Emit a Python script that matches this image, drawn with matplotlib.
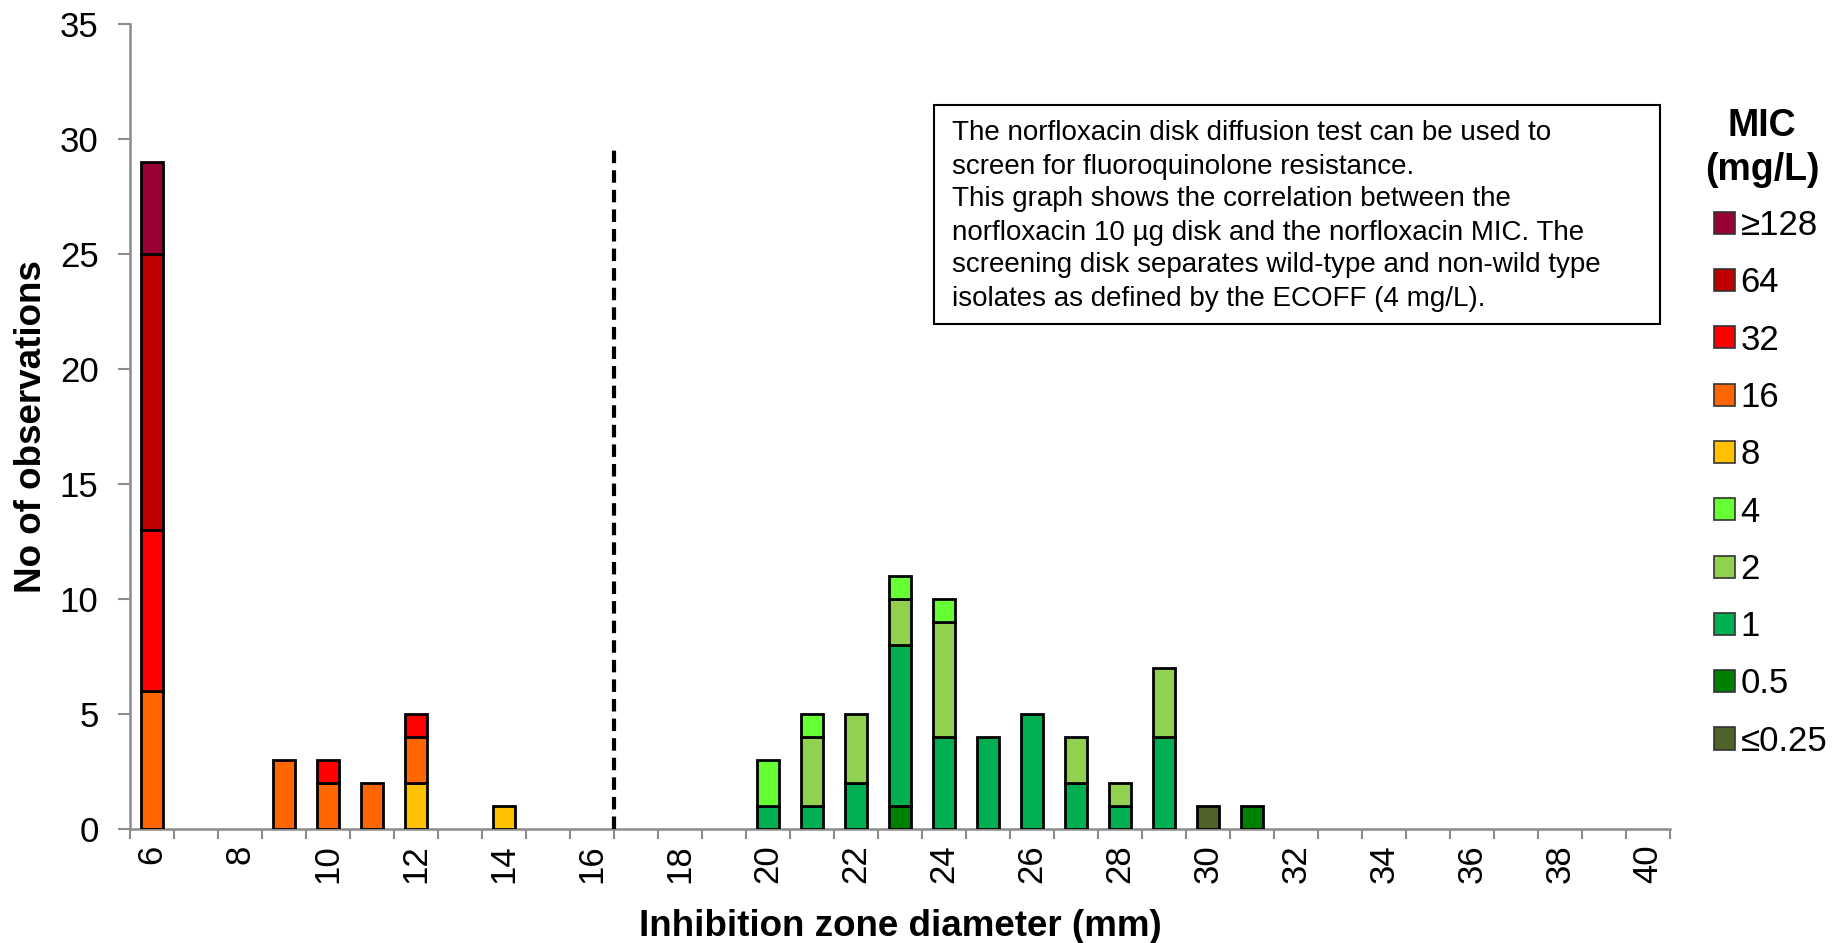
import numpy as np
import matplotlib
matplotlib.use('Agg')
import matplotlib.pyplot as plt
from matplotlib.patches import Patch, Rectangle

plt.rcParams['font.family'] = ['Liberation Sans', 'DejaVu Sans']

# inhibition zone diameters (mm), one category per mm
diameters = list(range(6, 41))

# counts per MIC class (mg/L): {diameter: count}
mic_le025 = {30: 1}
mic_05 = {23: 1, 31: 1}
mic_1 = {20: 1, 21: 1, 22: 2, 23: 7, 24: 4, 25: 4, 26: 5, 27: 2, 28: 1, 29: 4}
mic_2 = {21: 3, 22: 3, 23: 2, 24: 5, 27: 2, 28: 1, 29: 3}
mic_4 = {20: 2, 21: 1, 23: 1, 24: 1}
mic_8 = {12: 2, 14: 1}
mic_16 = {6: 6, 9: 3, 10: 2, 11: 2, 12: 2}
mic_32 = {6: 7, 10: 1, 12: 1}
mic_64 = {6: 12}
mic_ge128 = {6: 4}

mic_labels = ['\u22640.25', '0.5', '1', '2', '4', '8', '16', '32', '64', '\u2265128']
mic_series = [mic_le025, mic_05, mic_1, mic_2, mic_4, mic_8, mic_16, mic_32, mic_64, mic_ge128]
mic_colors = ['#4F6228', '#008000', '#00B050', '#92D050', '#66FF33',
              '#FFC000', '#FF6600', '#FF0000', '#C00000', '#990033']

ecoff_cut = 16.5   # screening breakpoint between 16 and 17 mm
ecoff_top = 29.6

W, H = 1847, 943
fig = plt.figure(figsize=(W / 100, H / 100), dpi=100)
ax = fig.add_axes([130 / W, 1 - 829 / H, 1540 / W, 805 / H])

x = np.arange(len(diameters))
bottom = np.zeros(len(diameters))
for lab, ser, col in zip(mic_labels, mic_series, mic_colors):
    vals = np.array([ser.get(d, 0) for d in diameters], dtype=float)
    mask = vals > 0
    ax.bar(x[mask], vals[mask], bottom=bottom[mask], width=0.5, color=col,
           edgecolor='black', linewidth=2, zorder=3)
    bottom += vals

xc = diameters.index(16) + (ecoff_cut - 16)
ax.plot([xc, xc], [0, ecoff_top], color='black', lw=3, ls=(0, (3, 1.7)), zorder=4)

grey = '#8c8c8c'
ax.set_xlim(-0.5, len(diameters) - 0.5)
ax.set_ylim(0, 35)
ax.set_yticks(np.arange(0, 36, 5))
ax.set_xticks(x[::2])
ax.set_xticklabels([str(d) for d in diameters[::2]], rotation=90)
ax.set_xticks(np.arange(-0.5, len(diameters), 1), minor=True)
ax.tick_params(axis='x', which='major', length=0, labelsize=25, pad=11)
ax.tick_params(axis='x', which='minor', length=7.2, width=1.5, color=grey)
ax.tick_params(axis='y', length=8.6, width=1.5, color=grey, labelsize=25, pad=14)
for s in ['top', 'right']:
    ax.spines[s].set_visible(False)
for s in ['left', 'bottom']:
    ax.spines[s].set_color(grey)
    ax.spines[s].set_linewidth(1.8)

ax.set_xlabel('Inhibition zone diameter (mm)', fontsize=26.5, fontweight='bold')
ax.set_ylabel('No of observations', fontsize=26.5, fontweight='bold')
ax.xaxis.set_label_coords(0.5, (829 - 909) / 805)
ax.yaxis.set_label_coords((49 - 130) / 1540, 0.5)

# info box
fig.patches.append(Rectangle((934 / W, 1 - 324 / H), 726 / W, 219 / H,
                             transform=fig.transFigure, facecolor='white',
                             edgecolor='black', linewidth=1.5, zorder=5))
info = ('The norfloxacin disk diffusion test can be used to\n'
        'screen for fluoroquinolone resistance.\n'
        'This graph shows the correlation between the\n'
        'norfloxacin 10 \u00b5g disk and the norfloxacin MIC. The\n'
        'screening disk separates wild-type and non-wild type\n'
        'isolates as defined by the ECOFF (4 mg/L).')
fig.text(952 / W, 1 - 216 / H, info, fontsize=20, va='center', ha='left',
         linespacing=1.35, zorder=6)

# legend
fig.text(1762 / W, 1 - 126 / H, 'MIC', fontsize=27, fontweight='bold',
         ha='center', va='center')
fig.text(1762 / W, 1 - 170 / H, '(mg/L)', fontsize=27, fontweight='bold',
         ha='center', va='center')
handles = [Patch(facecolor=c, edgecolor='#333333', linewidth=1.2)
           for c in mic_colors[::-1]]
leg = fig.legend(handles, mic_labels[::-1], loc='upper left',
                 bbox_to_anchor=(1714 / W, 1 - 209 / H), frameon=False,
                 fontsize=25, handlelength=0.6, handleheight=0.6,
                 handletextpad=0.17, labelspacing=0.7, borderaxespad=0,
                 borderpad=0)

fig.savefig('out.png', dpi=100)
